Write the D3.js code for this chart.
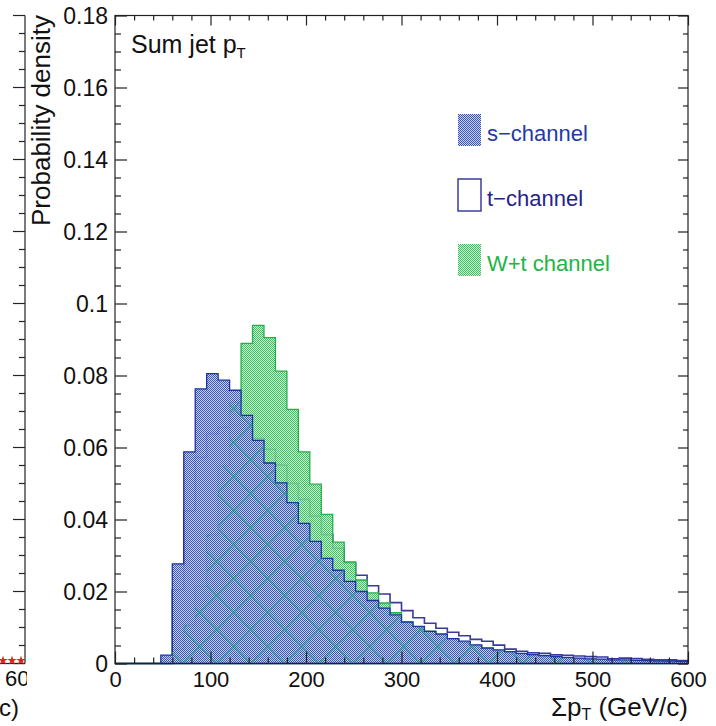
<!DOCTYPE html>
<html><head><meta charset="utf-8">
<script src="https://cdn.jsdelivr.net/npm/d3@7/dist/d3.min.js"></script>
<style>
body{margin:0;background:#fff}
svg{display:block}
text{font-family:"Liberation Sans",Arial,Helvetica,sans-serif}
</style>
</head><body>
<svg id="c" width="716" height="726"></svg>
<script>
// ---- data (Sum jet pT, 12 GeV bins from 0 to 600) ----
const binWidth = 12;
const xDomain = [0, 600];
const yDomain = [0, 0.18];
const sChannel = [0,0,0,0,0.0023,0.0277,0.0588,0.0763,0.0805,0.0787,
  0.0759,0.0689,0.0620,0.0557,0.0502,0.0447,0.0389,0.0339,0.0292,0.0259,
  0.0228,0.0200,0.0175,0.0154,0.0135,0.0115,0.0103,0.0089,0.0082,0.0069,
  0.0062,0.0052,0.0043,0.0038,0.0033,0.0028,0.0025,0.0022,0.0019,0.0017,
  0.0015,0.0013,0.0012,0.0010,0.0010,0.0009,0.0008,0.0007,0.0007,0.0006];
const tChannel = [0,0,0,0,0,0.0205,0.0424,0.0573,0.0638,0.0656,
  0.0663,0.0654,0.0625,0.0595,0.0551,0.0500,0.0456,0.0409,0.0358,0.0320,
  0.0279,0.0245,0.0216,0.0193,0.0169,0.0147,0.0127,0.0112,0.0098,0.0087,
  0.0077,0.0067,0.0062,0.0051,0.0040,0.0034,0.0030,0.0028,0.0024,0.0023,
  0.0021,0.0019,0.0018,0.0013,0.0015,0.0014,0.0012,0.0010,0.0010,0.0008];
const wtChannel = [0,0,0,0,0.0005,0.0040,0.0107,0.0214,0.0358,0.0549,
  0.0725,0.0889,0.0939,0.0905,0.0812,0.0706,0.0588,0.0498,0.0414,0.0337,
  0.0282,0.0232,0.0196,0.0168,0.0141,0.0116,0.0102,0.0090,0.0080,0.0068,
  0.0058,0.0050,0.0042,0.0036,0.0030,0.0026,0.0022,0.0019,0.0016,0.0014,
  0.0012,0.0011,0.0010,0.0008,0.0008,0.0007,0.0006,0.0006,0.0005,0.0005];
const xTickValues = [0,100,200,300,400,500,600];
const xTickLabels = ["0","100","200","300","400","500","600"];
const yTickValues = [0,0.02,0.04,0.06,0.08,0.1,0.12,0.14,0.16,0.18];
const yTickLabels = ["0","0.02","0.04","0.06","0.08","0.1","0.12","0.14","0.16","0.18"];
const legendLabels = ["s\u2212channel","t\u2212channel","W+t channel"];

// ---- layout ----
const svg = d3.select("#c");
const L = 115, R = 688, T = 15.5, B = 663.5;
const x = d3.scaleLinear().domain(xDomain).range([L, R]);
const y = d3.scaleLinear().domain(yDomain).range([B, T]);

const defs = svg.append("defs");
function checker(id, base, dot) {
  const p = defs.append("pattern").attr("id", id).attr("width", 2).attr("height", 2)
    .attr("patternUnits", "userSpaceOnUse");
  p.append("rect").attr("width", 2).attr("height", 2).attr("fill", base);
  p.append("rect").attr("x", 0).attr("y", 0).attr("width", 1).attr("height", 1).attr("fill", dot);
  p.append("rect").attr("x", 1).attr("y", 1).attr("width", 1).attr("height", 1).attr("fill", dot);
}
checker("pBlue", "rgba(192,202,240,0.85)", "#3a55b6");
checker("pGreen", "rgba(185,238,198,0.78)", "#3cc060");
const hatch = defs.append("pattern").attr("id", "pHatch").attr("width", 34).attr("height", 34)
  .attr("patternUnits", "userSpaceOnUse").attr("x", L).attr("y", B);
hatch.append("path").attr("d", "M0,0L34,34M34,0L0,34").attr("stroke", "#239c8a")
  .attr("stroke-width", 1.4).attr("fill", "none");

function pts(vals) {
  const p = vals.map((v, i) => ({e: i * binWidth, v}));
  p.push({e: xDomain[1], v: vals[vals.length - 1]});
  return p;
}
const area = d3.area().x(d => x(d.e)).y0(y(0)).y1(d => y(d.v)).curve(d3.curveStepAfter);
const line = d3.line().x(d => x(d.e)).y(d => y(d.v)).curve(d3.curveStepAfter);

const plot = svg.append("g");
// t-channel outline (hollow)
plot.append("path").attr("d", line(pts(tChannel))).attr("fill", "none")
  .attr("stroke", "#3a3a9c").attr("stroke-width", 1.6);
// W+t channel
plot.append("path").attr("d", area(pts(wtChannel))).attr("fill", "url(#pGreen)")
  .attr("stroke", "#25b04a").attr("stroke-width", 1.3);
// s-channel
plot.append("path").attr("d", area(pts(sChannel))).attr("fill", "url(#pBlue)")
  .attr("stroke", "#1b33a4").attr("stroke-width", 1.3);
// moire hatch where the filled histograms overlap
const overlap = sChannel.map((v, i) => Math.min(v, wtChannel[i]));
plot.append("path").attr("d", area(pts(overlap))).attr("fill", "url(#pHatch)").attr("opacity", 0.75);
// baseline of the histogram
plot.append("path").attr("d", line(pts(sChannel.map(() => 0)))).attr("stroke", "#3a3a9c")
  .attr("stroke-width", 1.2).attr("fill", "none");

// ---- frame and axes ----
const axCol = "#222";
svg.append("rect").attr("x", L).attr("y", T).attr("width", R - L).attr("height", B - T)
  .attr("fill", "none").attr("stroke", axCol).attr("stroke-width", 1.2);

const yMinor = d3.range(0, 0.1801, 0.005).filter(v => Math.abs(v / 0.02 - Math.round(v / 0.02)) > 1e-6);
const xMinor = d3.range(0, 601, 20).filter(v => v % 100 !== 0);

function styleAxis(g) {
  g.select(".domain").remove();
  g.selectAll("line").attr("stroke", axCol).attr("stroke-width", 1.2);
  g.selectAll("text").attr("fill", "#111").attr("font-family", '"Liberation Sans",Arial,sans-serif');
}
// left
svg.append("g").attr("transform", `translate(${L},0)`)
  .call(d3.axisLeft(y).tickValues(yTickValues).tickSize(-12).tickPadding(7)
    .tickFormat((d, i) => yTickLabels[i]))
  .call(styleAxis).call(g => g.selectAll("text").attr("font-size", 23).attr("dy", "0.36em"));
svg.append("g").attr("transform", `translate(${L},0)`)
  .call(d3.axisLeft(y).tickValues(yMinor).tickSize(-6).tickFormat(""))
  .call(styleAxis);
// right
svg.append("g").attr("transform", `translate(${R},0)`)
  .call(d3.axisRight(y).tickValues(yTickValues).tickSize(-10).tickFormat(""))
  .call(styleAxis);
svg.append("g").attr("transform", `translate(${R},0)`)
  .call(d3.axisRight(y).tickValues(yMinor).tickSize(-5).tickFormat(""))
  .call(styleAxis);
// bottom
svg.append("g").attr("transform", `translate(0,${B})`)
  .call(d3.axisBottom(x).tickValues(xTickValues).tickSize(-12).tickPadding(6)
    .tickFormat((d, i) => xTickLabels[i]))
  .call(styleAxis).call(g => g.selectAll("text").attr("font-size", 22).attr("dy", "0.78em"));
svg.append("g").attr("transform", `translate(0,${B})`)
  .call(d3.axisBottom(x).tickValues(xMinor).tickSize(-6).tickFormat(""))
  .call(styleAxis);
// top
svg.append("g").attr("transform", `translate(0,${T})`)
  .call(d3.axisTop(x).tickValues(xTickValues).tickSize(-10).tickFormat(""))
  .call(styleAxis);
svg.append("g").attr("transform", `translate(0,${T})`)
  .call(d3.axisTop(x).tickValues(xMinor).tickSize(-5).tickFormat(""))
  .call(styleAxis);

// ---- titles ----
const title = svg.append("text").attr("x", 131).attr("y", 53).attr("font-size", 25).attr("fill", "#111");
title.append("tspan").text("Sum jet p");
title.append("tspan").attr("font-size", 15).attr("dy", 5).text("T");

svg.append("text").attr("transform", "translate(50,15) rotate(-90)").attr("text-anchor", "end")
  .attr("font-size", 26).attr("fill", "#111").text("Probability density");

const xt = svg.append("text").attr("x", 688).attr("y", 716).attr("text-anchor", "end")
  .attr("font-size", 26).attr("fill", "#111");
xt.append("tspan").text("\u03a3p");
xt.append("tspan").attr("font-size", 16).attr("dy", 4).text("T");
xt.append("tspan").attr("dy", -4).text(" (GeV/c)");

// ---- legend ----
const legendFills = ["url(#pBlue)", "none", "url(#pGreen)"];
const legendStrokes = ["#1b33a4", "#2f2f96", "#25b04a"];
const legendText = ["#1e3aa8", "#23238c", "#22b444"];
const legY = [114, 179, 244];
const leg = svg.append("g");
legendLabels.forEach((lab, i) => {
  leg.append("rect").attr("x", 458).attr("y", legY[i]).attr("width", 23).attr("height", 32)
    .attr("fill", legendFills[i]).attr("stroke", i === 1 ? legendStrokes[i] : "none")
    .attr("stroke-width", 1.4);
  leg.append("text").attr("x", 487).attr("y", legY[i] + 27).attr("font-size", 22)
    .attr("fill", legendText[i]).text(lab);
});

// ---- fragment of neighbouring pad on the left ----
const frag = svg.append("g");
defs.append("clipPath").attr("id", "fragClip").append("rect").attr("x", 0).attr("y", 0)
  .attr("width", 27).attr("height", 726);
frag.attr("clip-path", "url(#fragClip)");
frag.append("line").attr("x1", 25).attr("x2", 25).attr("y1", T).attr("y2", B)
  .attr("stroke", axCol).attr("stroke-width", 1.2);
frag.append("line").attr("x1", 0).attr("x2", 25).attr("y1", B).attr("y2", B)
  .attr("stroke", axCol).attr("stroke-width", 1.2);
yTickValues.forEach(v => frag.append("line").attr("x1", 13).attr("x2", 25)
  .attr("y1", y(v)).attr("y2", y(v)).attr("stroke", axCol).attr("stroke-width", 1.2));
yMinor.forEach(v => frag.append("line").attr("x1", 19).attr("x2", 25)
  .attr("y1", y(v)).attr("y2", y(v)).attr("stroke", axCol).attr("stroke-width", 1.2));
[3, 12, 21].forEach(px => frag.append("path")
  .attr("transform", `translate(${px},${B - 3})`)
  .attr("d", d3.symbol(d3.symbolStar, 28)()).attr("fill", "#e0241c"));
frag.append("text").attr("x", 5).attr("y", 686).attr("font-size", 22).attr("fill", "#111").text("600");
frag.append("text").attr("x", -1).attr("y", 716).attr("font-size", 24).attr("fill", "#111").text("c)");
</script>
</body></html>
